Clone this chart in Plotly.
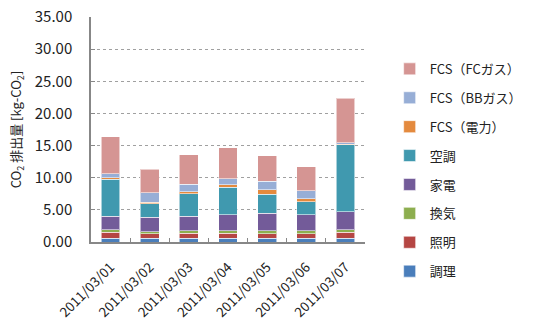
import plotly.graph_objects as go

dates = ["2011/03/01", "2011/03/02", "2011/03/03", "2011/03/04",
         "2011/03/05", "2011/03/06", "2011/03/07"]

cooking     = [0.58, 0.58, 0.58, 0.58, 0.58, 0.58, 0.58]   # 調理
lighting    = [0.90, 0.69, 0.79, 0.79, 0.72, 0.72, 0.94]   # 照明
ventilation = [0.42, 0.36, 0.41, 0.41, 0.44, 0.44, 0.42]   # 換気
appliances  = [2.10, 2.22, 2.22, 2.44, 2.74, 2.48, 2.80]   # 家電
aircon      = [5.75, 2.08, 3.48, 4.29, 2.94, 2.07, 10.40]  # 空調
fcs_power   = [0.22, 0.25, 0.36, 0.42, 0.73, 0.42, 0.06]   # FCS（電力）
fcs_bbgas   = [0.63, 1.46, 1.16, 0.88, 1.30, 1.29, 0.25]   # FCS（BBガス）
fcs_fcgas   = [5.80, 3.66, 4.54, 4.82, 3.93, 3.68, 6.90]   # FCS（FCガス）

series = [
    ("調理", cooking, "#4A7EBB"),
    ("照明", lighting, "#B54643"),
    ("換気", ventilation, "#8DAE4F"),
    ("家電", appliances, "#735B99"),
    ("空調", aircon, "#4099AF"),
    ("FCS（電力）", fcs_power, "#E48A3E"),
    ("FCS（BBガス）", fcs_bbgas, "#97AED6"),
    ("FCS（FCガス）", fcs_fcgas, "#D59593"),
]

font_family = "Noto Sans CJK JP"
txt = "#222222"
axis_col = "#878787"

fig = go.Figure()
for i, (name, vals, color) in enumerate(series):
    fig.add_trace(go.Bar(
        x=dates, y=vals, name=name, legendgroup=name, legendrank=1000 - i,
        marker=dict(color=color, line=dict(color="rgba(255,255,255,0.55)", width=1)),
    ))

fig.update_layout(
    width=539, height=325,
    margin=dict(l=91, r=130, t=17, b=83),
    barmode="stack",
    bargap=0.52,
    plot_bgcolor="white", paper_bgcolor="white",
    font=dict(family=font_family, size=12, color=txt),
    showlegend=True,
    legend=dict(
        traceorder="grouped", tracegroupgap=9.0,
        x=1.09, xanchor="left", y=0.836, yanchor="top",
        font=dict(family=font_family, size=13, color=txt),
        itemwidth=30, entrywidth=60, entrywidthmode="pixels",
        bgcolor="rgba(0,0,0,0)", maxheight=400,
    ),
    xaxis=dict(
        type="category", tickangle=-45, tickson="boundaries",
        ticks="inside", ticklen=4, tickcolor=axis_col,
        showline=True, linecolor=axis_col, linewidth=2,
        showgrid=False, ticklabelstandoff=10, automargin=False,
        tickfont=dict(family=font_family, size=13.5, color=txt),
    ),
    yaxis=dict(
        range=[0, 35], dtick=5, tickformat=".2f",
        ticks="inside", ticklen=4, tickcolor=axis_col,
        showline=True, linecolor=axis_col, linewidth=1.5,
        showgrid=True, gridcolor="#A0A0A0", griddash="dot", gridwidth=1,
        zeroline=False, ticklabelstandoff=14, automargin=False,
        tickfont=dict(family=font_family, size=15, color=txt),
        title=dict(text="CO<sub>2</sub> 排出量 [kg-CO<sub>2</sub>]",
                   font=dict(family=font_family, size=13, color=txt),
                   standoff=10),
    ),
)

fig.write_html("out.html")
